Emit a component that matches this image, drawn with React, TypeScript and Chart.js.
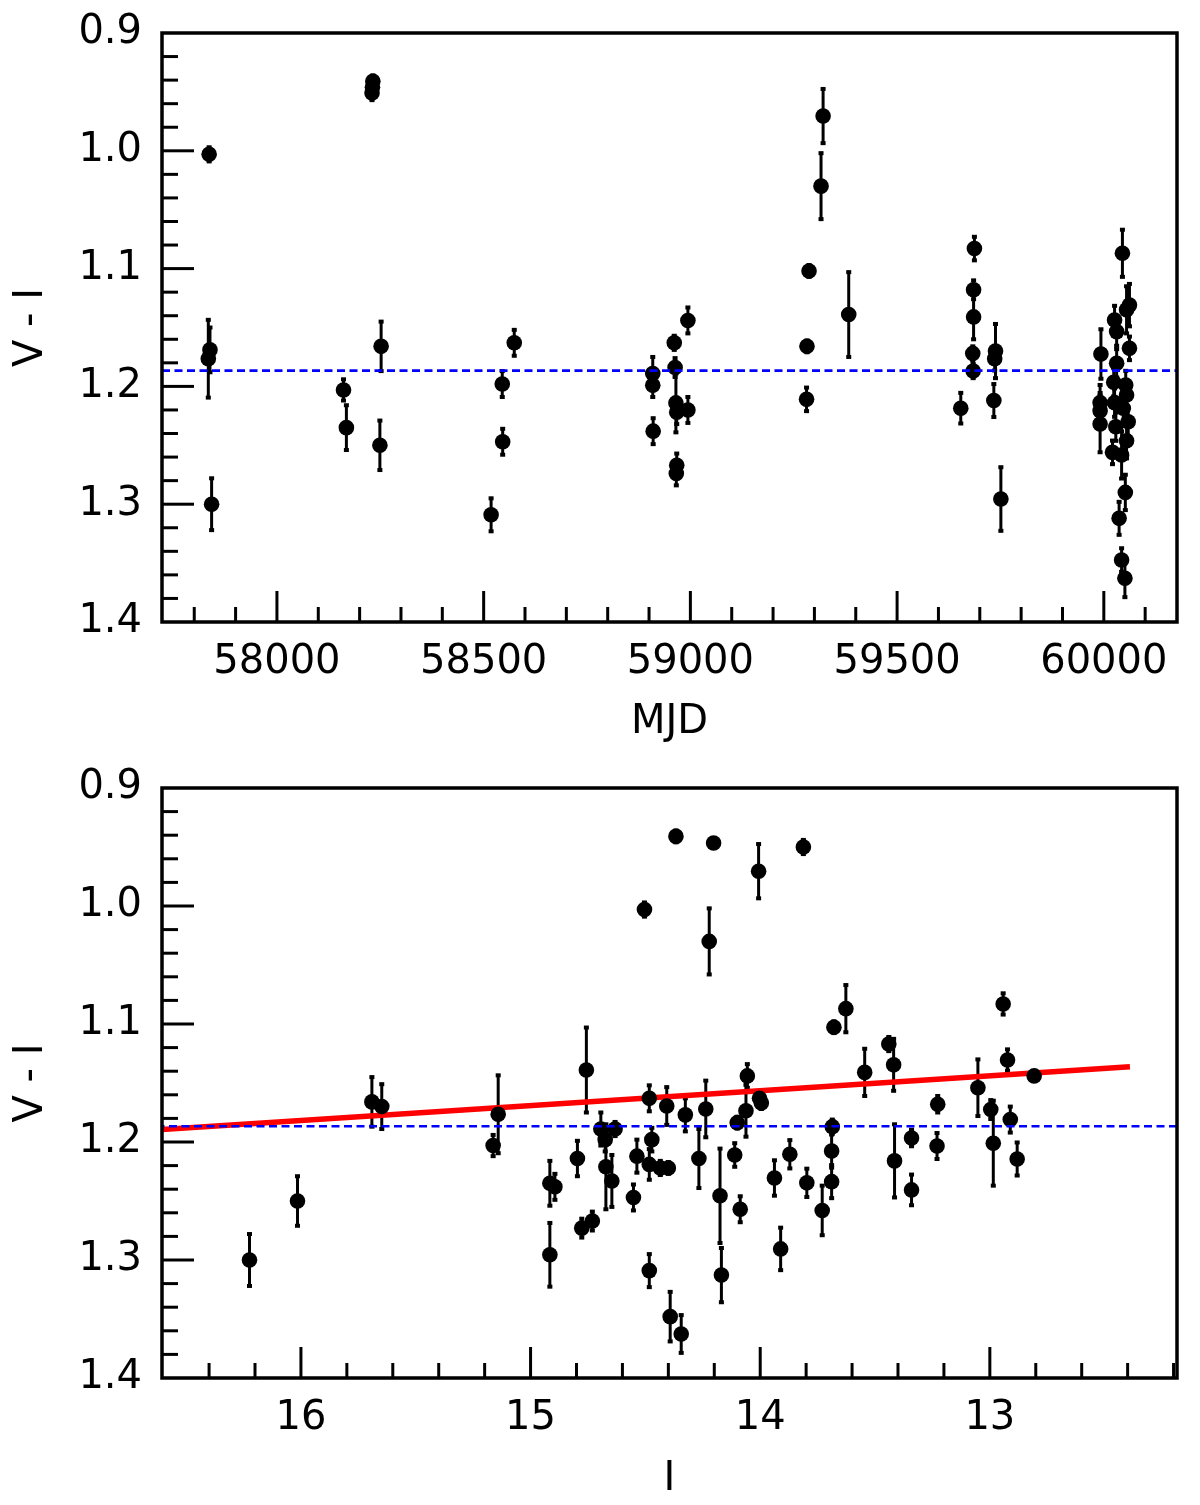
import React, { useEffect, useRef } from "react";
import { Chart, registerables } from "chart.js";

Chart.register(...registerables);

const FONT = "'DejaVu Sans', sans-serif";

// top panel: V - I against MJD
const mjd = [
  57836, 57838, 57834, 57842, 58232, 58231, 58230, 58161, 58168, 58252, 58249,
  58518, 58545, 58546, 58574, 58909, 58909, 58910, 58961, 58963, 58965, 58967,
  58994, 58994, 58967, 58966, 59321, 59316, 59287, 59282, 59281, 59383, 59654,
  59687, 59685, 59685, 59683, 59684, 59738, 59736, 59734, 59751, 60045, 60062,
  60055, 60026, 60031, 60062, 59993, 60031, 60024, 60053, 60055, 59991, 60026,
  59991, 60047, 60059, 59991, 60029, 60055, 60021, 60043, 60052, 60037, 60043,
  60051,
];
const mjdColor = [
  1.003, 1.169, 1.1765, 1.3, 0.941, 0.946, 0.951, 1.203, 1.235, 1.166, 1.25,
  1.309, 1.198, 1.247, 1.163, 1.189, 1.199, 1.238, 1.163, 1.184, 1.214, 1.222,
  1.22, 1.144, 1.267, 1.274, 0.9705, 1.03, 1.102, 1.166, 1.211, 1.139, 1.2185,
  1.083, 1.118, 1.141, 1.172, 1.187, 1.17, 1.1765, 1.212, 1.2956, 1.087, 1.131,
  1.135, 1.1436, 1.1535, 1.1677, 1.1725, 1.1804, 1.1965, 1.1988, 1.2073, 1.2138,
  1.2138, 1.2206, 1.2186, 1.23, 1.2319, 1.2342, 1.2461, 1.256, 1.2582, 1.29,
  1.312, 1.3474, 1.3629,
];
const mjdColorErr = [
  0.006, 0.019, 0.033, 0.022, 0.005, 0.005, 0.006, 0.009, 0.019, 0.021, 0.021,
  0.014, 0.011, 0.011, 0.011, 0.014, 0.01, 0.011, 0.006, 0.008, 0.025, 0.01,
  0.011, 0.011, 0.01, 0.01, 0.023, 0.028, 0.005, 0.005, 0.01, 0.036, 0.013,
  0.01, 0.008, 0.019, 0.006, 0.006, 0.023, 0.01, 0.014, 0.027, 0.02, 0.018,
  0.02, 0.012, 0.012, 0.01, 0.021, 0.012, 0.012, 0.012, 0.012, 0.015, 0.012,
  0.015, 0.012, 0.012, 0.024, 0.012, 0.015, 0.01, 0.02, 0.015, 0.014, 0.01,
  0.016,
];
const mjdTicks = [58000, 58500, 59000, 59500, 60000];

// bottom panel: V - I against I
const iMag = [
  16.224, 16.015, 15.691, 15.648, 15.141, 15.163, 14.757, 14.916, 14.894, 14.916,
  14.796, 14.777, 14.731, 14.694, 14.675, 14.672, 14.646, 14.632, 14.552, 14.537,
  14.504, 14.483, 14.472, 14.483, 14.483, 14.435, 14.407, 14.392, 14.367, 14.203,
  14.007, 13.812, 14.222, 14.344, 14.326, 14.4, 14.237, 14.267, 14.175, 14.169,
  14.111, 14.087, 14.1, 14.062, 14.056, 14.003, 13.995, 13.938, 13.911, 13.871,
  13.797, 13.73, 13.689, 13.689, 13.686, 13.679, 13.627, 13.545, 13.44, 13.419,
  13.415, 13.341, 13.341, 13.227, 13.23, 13.052, 12.996, 12.985, 12.942, 12.923,
  12.911, 12.881, 12.807,
];
const iColor = [
  1.3, 1.25, 1.166, 1.17, 1.1765, 1.203, 1.139, 1.235, 1.238, 1.2956,
  1.214, 1.273, 1.267, 1.189, 1.198, 1.221, 1.233, 1.189, 1.247, 1.212,
  1.003, 1.163, 1.198, 1.219, 1.309, 1.222, 1.1695, 1.348, 0.941, 0.9466,
  0.9705, 0.95, 1.03, 1.3627, 1.177, 1.222, 1.172, 1.214, 1.2456, 1.3128,
  1.211, 1.257, 1.1836, 1.1735, 1.144, 1.163, 1.167, 1.2305, 1.2906, 1.2104,
  1.2346, 1.258, 1.2336, 1.2077, 1.187, 1.1027, 1.087, 1.141, 1.117, 1.1346,
  1.216, 1.1966, 1.2406, 1.168, 1.2034, 1.154, 1.1725, 1.201, 1.083, 1.1305,
  1.181, 1.2144, 1.144,
];
const iColorErr = [
  0.022, 0.021, 0.021, 0.019, 0.033, 0.009, 0.036, 0.019, 0.011, 0.027,
  0.015, 0.008, 0.008, 0.014, 0.01, 0.036, 0.022, 0.006, 0.011, 0.014,
  0.006, 0.011, 0.01, 0.013, 0.014, 0.006, 0.016, 0.021, 0.005, 0.004,
  0.023, 0.006, 0.028, 0.016, 0.014, 0.005, 0.024, 0.025, 0.04, 0.023,
  0.01, 0.011, 0.005, 0.022, 0.01, 0.005, 0.005, 0.015, 0.018, 0.012,
  0.012, 0.021, 0.014, 0.014, 0.006, 0.005, 0.02, 0.02, 0.006, 0.022,
  0.031, 0.007, 0.013, 0.007, 0.011, 0.024, 0.008, 0.036, 0.009, 0.009,
  0.011, 0.014, 0.003,
];
const iTicks = [13, 14, 15, 16];

const meanColor = 1.1866;
const fitI = [16.62, 12.39];
const fitColor = [1.1895, 1.1362];

const yTicks = [0.9, 1.0, 1.1, 1.2, 1.3, 1.4];

const framePlugin = {
  id: "frame",
  // error bars go under every line and marker
  beforeDatasetsDraw(chart: any) {
    const ds = chart.data.datasets.find((d: any) => d.errors);
    if (!ds) return;
    const { ctx, chartArea: a } = chart;
    const xs = chart.scales.x;
    const ys = chart.scales.y;
    ctx.save();
    ctx.beginPath();
    ctx.rect(a.left, a.top, a.right - a.left, a.bottom - a.top);
    ctx.clip();
    ctx.fillStyle = "#000";
    ctx.strokeStyle = "#000";
    ctx.lineWidth = 3;
    ds.data.forEach((p: any, i: number) => {
      const e = ds.errors[i];
      const px = xs.getPixelForValue(p.x);
      const top = ys.getPixelForValue(p.y - e);
      const bot = ys.getPixelForValue(p.y + e);
      ctx.beginPath();
      ctx.moveTo(px, top);
      ctx.lineTo(px, bot);
      ctx.stroke();
      ctx.fillRect(px - 2.5, top - 2, 5, 4);
      ctx.fillRect(px - 2.5, bot - 2, 5, 4);
    });
    ctx.restore();
  },
  afterDatasetsDraw(chart: any, _args: any, opts: any) {
    const { ctx, chartArea: a } = chart;
    const xs = chart.scales.x;
    const ys = chart.scales.y;
    ctx.save();
    ctx.strokeStyle = "#000";
    ctx.lineWidth = 3;
    const isMajor = (v: number, step: number) =>
      Math.abs(v / step - Math.round(v / step)) < 1e-6;
    const lo = Math.min(xs.min, xs.max);
    const hi = Math.max(xs.min, xs.max);
    for (let k = Math.ceil(lo / opts.xMinor); k * opts.xMinor <= hi; k++) {
      const v = k * opts.xMinor;
      const px = xs.getPixelForValue(v);
      if (px < a.left + 2 || px > a.right - 2) continue;
      const len = isMajor(v, opts.xMajor) ? 31 : 15;
      ctx.beginPath();
      ctx.moveTo(px, a.bottom);
      ctx.lineTo(px, a.bottom - len);
      ctx.stroke();
    }
    for (let k = Math.ceil(0.9 / 0.02 - 1e-6); k * 0.02 <= 1.4 + 1e-6; k++) {
      const v = k * 0.02;
      const py = ys.getPixelForValue(v);
      if (py < a.top + 2 || py > a.bottom - 2) continue;
      const len = isMajor(v, 0.1) ? 32 : 16;
      ctx.beginPath();
      ctx.moveTo(a.left, py);
      ctx.lineTo(a.left + len, py);
      ctx.stroke();
    }
    ctx.lineWidth = 3.5;
    ctx.strokeRect(a.left, a.top, a.right - a.left, a.bottom - a.top);
    ctx.restore();
  },
};

interface PanelProps {
  xs: number[];
  ys: number[];
  errs: number[];
  xMin: number;
  xMax: number;
  reverse: boolean;
  xTicks: number[];
  xMajor: number;
  xMinor: number;
  xTitle: string;
  height: number;
  padTop: number;
  plotBottom: number;
  titlePad: number;
  fit?: boolean;
  top: number;
}

const Panel: React.FC<PanelProps> = (p) => {
  const ref = useRef<HTMLCanvasElement | null>(null);

  useEffect(() => {
    if (!ref.current) return;
    // index 0 is painted last (on top)
    const datasets: any[] = [
      {
        data: [
          { x: p.xMin, y: meanColor },
          { x: p.xMax, y: meanColor },
        ],
        showLine: true,
        borderColor: "#0000ff",
        borderWidth: 2.6,
        borderDash: [8, 4.5],
        pointRadius: 0,
      },
      {
        data: p.xs.map((x, i) => ({ x, y: p.ys[i] })),
        errors: p.errs,
        backgroundColor: "#000",
        borderColor: "#000",
        pointRadius: 7.8,
        pointBorderWidth: 0,
      },
    ];
    if (p.fit) {
      datasets.push({
        data: fitI.map((x, i) => ({ x, y: fitColor[i] })),
        showLine: true,
        borderColor: "#ff0000",
        borderWidth: 5.5,
        pointRadius: 0,
      });
    }
    const chart = new Chart(ref.current, {
      type: "scatter",
      data: { datasets },
      plugins: [framePlugin as any],
      options: {
        animation: false,
        responsive: false,
        devicePixelRatio: 1,
        events: [],
        layout: { padding: { top: p.padTop, right: 23, left: 0, bottom: 0 } },
        plugins: {
          legend: { display: false },
          tooltip: { enabled: false },
          frame: { xMajor: p.xMajor, xMinor: p.xMinor },
        } as any,
        scales: {
          x: {
            type: "linear",
            min: p.xMin,
            max: p.xMax,
            reverse: p.reverse,
            afterBuildTicks: (s: any) => {
              s.ticks = p.xTicks.map((v) => ({ value: v }));
            },
            grid: { display: false, drawTicks: false },
            border: { display: false },
            ticks: {
              padding: 17,
              color: "#000",
              font: { family: FONT, size: 40 },
              maxRotation: 0,
              autoSkip: false,
              callback: (v: any) => String(v),
            },
            title: {
              display: true,
              text: p.xTitle,
              color: "#000",
              font: { family: FONT, size: 40 },
              padding: { top: 0, bottom: p.titlePad },
            },
            afterFit: (s: any) => {
              s.height = p.height - p.plotBottom;
              s.paddingLeft = 0;
              s.paddingRight = 0;
            },
          },
          y: {
            type: "linear",
            min: 0.9,
            max: 1.4,
            reverse: true,
            afterBuildTicks: (s: any) => {
              s.ticks = yTicks.map((v) => ({ value: v }));
            },
            grid: { display: false, drawTicks: false },
            border: { display: false },
            ticks: {
              padding: 20,
              color: "#000",
              font: { family: FONT, size: 40 },
              autoSkip: false,
              callback: (v: any) => Number(v).toFixed(1),
            },
            title: {
              display: true,
              text: "V - I",
              color: "#000",
              font: { family: FONT, size: 40 },
              padding: { top: 8, bottom: 0 },
            },
            afterFit: (s: any) => {
              s.width = 162;
              s.paddingTop = 0;
              s.paddingBottom = 0;
            },
          },
        },
      },
    });
    return () => chart.destroy();
  }, []);

  return (
    <canvas
      ref={ref}
      width={1200}
      height={p.height}
      style={{ position: "absolute", left: 0, top: p.top, width: 1200, height: p.height }}
    />
  );
};

export default function App() {
  return (
    <div
      style={{
        position: "absolute",
        left: 0,
        top: 0,
        width: 1200,
        height: 1505,
        background: "#fff",
      }}
    >
      <Panel
        xs={mjd}
        ys={mjdColor}
        errs={mjdColorErr}
        xMin={57722}
        xMax={60177}
        reverse={false}
        xTicks={mjdTicks}
        xMajor={500}
        xMinor={100}
        xTitle="MJD"
        height={760}
        padTop={33}
        plotBottom={622}
        titlePad={13}
        top={0}
      />
      <Panel
        xs={iMag}
        ys={iColor}
        errs={iColorErr}
        xMin={12.185}
        xMax={16.605}
        reverse={true}
        xTicks={iTicks}
        xMajor={1}
        xMinor={0.2}
        xTitle="I"
        height={745}
        padTop={28}
        plotBottom={618}
        titlePad={1}
        fit
        top={760}
      />
    </div>
  );
}
